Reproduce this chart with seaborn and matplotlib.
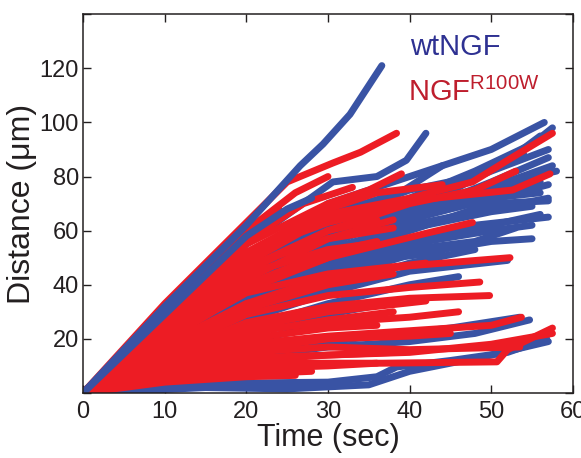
import pandas as pd
import seaborn as sns
import matplotlib.pyplot as plt

# waypoints (time in sec, distance in um) for each track
wt_tracks = [
    [(0, 0), (10, 32), (20, 62), (26.6, 84), (29.4, 92), (32.7, 103), (36.6, 121)],
    [(0, 0), (10, 28), (20, 55), (30.6, 78), (36, 80), (39.6, 86), (42, 96)],
    [(0, 0), (10, 25), (20, 48), (30, 66), (38.8, 74), (44, 84), (50, 90), (56.5, 100)],
    [(0, 0), (10, 22), (20, 45), (30, 62), (40, 72), (48, 82), (55, 92), (57.5, 98)],
    [(0, 0), (10, 20), (20, 40), (30, 55), (40, 66), (50, 78), (57, 87)],
    [(0, 0), (10, 18), (20, 36), (30, 50), (40, 60), (50, 70), (57, 71)],
    [(0, 0), (10, 17), (20, 33), (30, 46), (40, 57), (48, 62), (57, 65)],
    [(0, 0), (10, 15), (20, 30), (30, 42), (40, 51), (50, 56), (55, 57)],
    [(0, 0), (10, 14), (20, 27), (30, 37), (40, 45), (52, 49)],
    [(0, 0), (10, 12), (20, 24), (30, 33), (40, 40), (46, 43)],
    [(0, 0), (10, 10), (20, 16), (30, 19), (36, 21), (45, 24), (53.5, 28)],
    [(0, 0), (10, 8), (20, 13), (30, 17), (40, 19), (48, 22), (54.7, 27)],
    [(0, 0), (4, 2), (8, 2.5), (20, 3.7), (30, 4), (36, 6), (38.4, 9.6), (45, 12), (52, 15), (56.8, 20)],
    [(0, 0), (8, 1), (15, 2), (25, 1.5), (35, 3), (40, 8), (50, 14), (57, 19)],
    [(0, 0), (10, 24), (20, 46), (30, 60), (35, 62), (45, 70), (55, 80), (58, 82)],
    [(0, 0), (10, 26), (20, 50), (28, 64), (38, 70), (46, 76), (52, 86), (56, 95)],
    [(0, 0), (10, 21), (20, 38), (30, 52), (42, 58), (50, 62), (56, 66)],
    [(0, 0), (10, 19), (20, 35), (30, 47), (40, 53), (48, 56), (53, 61)],
    [(0, 0), (10, 29), (20, 58), (25, 68), (28, 72)],
    [(0, 0), (10, 16), (20, 31), (30, 44), (38, 50), (44, 52)],
    [(0, 0), (10, 13), (20, 22), (30, 29), (37, 33)],
    [(0, 0), (10, 11), (20, 19), (28, 24), (35, 27)],
    [(0, 0), (10, 23), (20, 44), (30, 58), (40, 68), (50, 76), (57.5, 84)],
    [(0, 0), (10, 20), (20, 42), (32, 60), (42, 66), (52, 73), (57, 77)],
    [(0, 0), (10, 18), (20, 37), (30, 51), (42, 62), (50, 67), (55, 69)],
    [(0, 0), (10, 17), (20, 34), (30, 48), (40, 55), (47, 59)],
    [(0, 0), (10, 27), (20, 50), (30, 70), (38, 78), (44, 84)],
    [(0, 0), (10, 25), (20, 49), (30, 64), (40, 75), (48, 80), (54, 88)],
    [(0, 0), (10, 22), (20, 42), (30, 56), (40, 64), (50, 72), (56, 74)],
    [(0, 0), (10, 19), (20, 39), (30, 53), (40, 62), (50, 68), (57, 72)],
    [(0, 0), (10, 16), (20, 33), (30, 45), (40, 55), (50, 60), (55, 62)],
    [(0, 0), (10, 15), (20, 28), (30, 39), (40, 48), (48, 53)],
    [(0, 0), (10, 24), (20, 47), (30, 63), (40, 70), (50, 82), (57, 90)],
    [(0, 0), (10, 21), (20, 41), (30, 57), (40, 67), (50, 74), (56, 78)],
]
# wt tracks drawn above the mutant ones
wt_front = [0, 18]

mut_tracks = [
    [(0, 0), (10, 33), (20, 63), (25, 78), (30.6, 85), (34, 89), (38.4, 96)],
    [(0, 0), (10, 27), (20, 55), (30, 70), (35, 75), (39, 81)],
    [(0, 0), (10, 25), (20, 50), (30, 66), (40, 72), (47.7, 78), (52, 86), (57.5, 96)],
    [(0, 0), (10, 24), (20, 48), (30, 65), (40, 71), (52.6, 75), (57.2, 81)],
    [(0, 0), (10, 22), (20, 45), (30, 60), (40, 70), (48, 75), (53, 82)],
    [(0, 0), (10, 20), (20, 40), (30, 52), (36, 56)],
    [(0, 0), (10, 17), (20, 33), (30, 43), (40, 47), (52.3, 50)],
    [(0, 0), (10, 15), (20, 29), (30, 36), (40, 39), (48.6, 41)],
    [(0, 0), (10, 14), (20, 26), (30, 32), (40, 35), (49.8, 36)],
    [(0, 0), (10, 11), (20, 18), (30, 21), (40, 23), (50, 25), (53.7, 28)],
    [(0, 0), (10, 10), (20, 15), (30, 17), (40, 16), (53.5, 17)],
    [(0, 0), (10, 8), (20, 11), (30, 11), (36.7, 11), (50.7, 11.5), (52, 16), (57.5, 24)],
    [(0, 0), (10, 9), (20, 13), (30, 14), (40, 15), (50, 18), (57.5, 22)],
    [(0, 0), (10, 30), (20, 58), (24, 68)],
    [(0, 0), (10, 31), (20, 60), (26, 74), (30, 80)],
    [(0, 0), (10, 26), (20, 52), (30, 68), (36, 74), (44, 77)],
    [(0, 0), (10, 21), (20, 42), (30, 57), (38, 64)],
    [(0, 0), (10, 19), (20, 38), (30, 50), (35, 55)],
    [(0, 0), (10, 16), (20, 31), (30, 40), (38, 44)],
    [(0, 0), (10, 12), (20, 22), (30, 27), (38, 30)],
    [(0, 0), (10, 6), (20, 9), (30, 10), (36, 11)],
    [(0, 0), (10, 5), (20, 7), (28, 8)],
    [(0, 0), (10, 13), (20, 24), (30, 30), (42, 34)],
    [(0, 0), (10, 23), (20, 46), (30, 60), (36, 64)],
    [(0, 0), (10, 29), (20, 56), (27, 70), (33, 76)],
    [(0, 0), (10, 26), (20, 47), (30, 57), (38, 61)],
    [(0, 0), (10, 21), (20, 39), (30, 50), (42, 59), (47.7, 63)],
    [(0, 0), (10, 18), (20, 33), (30, 41), (36, 45)],
    [(0, 0), (10, 14), (20, 23), (30, 26), (40, 28), (46, 30)],
    [(0, 0), (10, 12), (20, 20), (30, 24), (36, 25)],
    [(0, 0), (10, 9), (20, 16), (30, 20), (40, 21), (45, 22)],
    [(0, 0), (10, 7), (20, 12), (30, 14), (38, 15)],
    [(0, 0), (10, 4), (20, 6), (26, 6.5)],
    [(0, 0), (10, 24), (20, 44), (30, 53), (35, 55)],
    [(0, 0), (10, 28), (20, 52), (30, 63), (37, 68)],
    [(0, 0), (10, 20), (20, 37), (30, 44), (42, 48)],
]

x_ticks = [0, 10, 20, 30, 40, 50, 60]
y_ticks = [0, 20, 40, 60, 80, 100, 120, 140]
y_labels = ["", "20", "40", "60", "80", "100", "120", ""]


def to_frame(tracks, group):
    rows = []
    for i, tr in enumerate(tracks):
        for t, d in tr:
            rows.append({"track": i, "t": t, "d": d, "group": group})
    return pd.DataFrame(rows)


df_wt = to_frame(wt_tracks, "wt")
df_mut = to_frame(mut_tracks, "mut")
front = df_wt["track"].isin(wt_front)

sns.set_style("ticks")
plt.rcParams["font.family"] = ["Liberation Sans Narrow", "Liberation Sans", "DejaVu Sans"]
plt.rcParams["mathtext.fontset"] = "custom"
plt.rcParams["mathtext.rm"] = "Liberation Sans Narrow"

fig = plt.figure(figsize=(5.81, 4.58), dpi=100)
ax = fig.add_axes([0.143, 0.142, 0.843, 0.827])

blue = "#3953A4"
red = "#ED1C24"
kw = dict(x="t", y="d", units="track", estimator=None, sort=False, lw=5,
          ax=ax, solid_capstyle="round")
sns.lineplot(data=df_wt[~front], color=blue, **kw)
sns.lineplot(data=df_mut, color=red, **kw)
sns.lineplot(data=df_wt[front], color=blue, **kw)

ax.set_xlim(0, 60)
ax.set_ylim(0, 140)
ax.set_xticks(x_ticks)
ax.set_yticks(y_ticks)
ax.set_yticklabels(y_labels)
ax.tick_params(direction="in", length=6, width=1, top=True, right=True,
               labelsize=17, colors="#231F20")
ax.tick_params(axis="y", pad=3)
ax.tick_params(axis="x", pad=6)
for s in ax.spines.values():
    s.set_linewidth(1.1)
    s.set_color("#231F20")

ax.set_xlabel("Time (sec)", fontsize=22, color="#231F20", labelpad=0)
ax.set_ylabel("Distance (\u03bcm)", fontsize=23, color="#231F20", labelpad=2)

ax.text(40, 125, "wtNGF", fontsize=21, color="#2E3192")
ax.text(39.8, 108, r"NGF$^{\mathregular{R100W}}$", fontsize=21, color="#BE1E2D")

fig.savefig("out.png", dpi=100)
